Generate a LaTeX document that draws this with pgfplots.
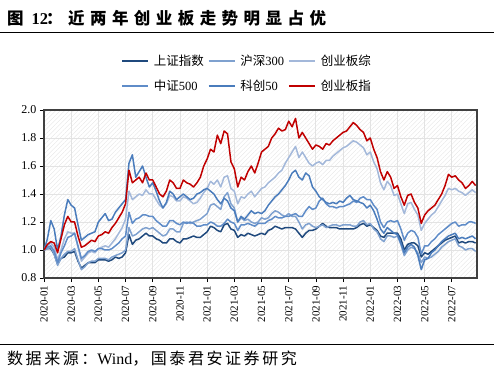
\documentclass[border=0pt]{standalone}
\usepackage{fontspec}
\setmainfont{Liberation Serif}
\newfontfamily\cjk{Noto Sans CJK SC}
\newfontfamily\cjkt[LetterSpace=33]{Noto Sans CJK SC}
\newfontfamily\cjks[LetterSpace=16]{Noto Sans CJK SC}
\usepackage{pgfplots}
\usepackage{pgfplotstable}
\pgfplotsset{compat=1.18}
\usetikzlibrary{patterns.meta}
\definecolor{cSH}{HTML}{1F497D}
\definecolor{cHS}{HTML}{7FA1CF}
\definecolor{cCZ}{HTML}{A3B8DA}
\definecolor{cZZ}{HTML}{5F8CC8}
\definecolor{cKC}{HTML}{4A7CBC}
\definecolor{cCY}{HTML}{C00000}
\pgfplotstableread{
m SH HS CZ ZZ KC CY
0.00 1.00 1.00 1.00 1.00 1.00 1.00
0.25 1.01 1.01 1.03 1.02 1.08 1.04
0.50 1.01 1.02 1.05 1.03 1.21 1.06
0.75 0.97 0.97 1.02 0.99 1.15 1.05
1.00 0.90 0.89 0.93 0.91 1.00 0.98
1.25 0.94 0.94 1.00 0.98 1.10 1.08
1.50 0.95 0.97 1.08 1.03 1.25 1.18
1.75 0.98 0.99 1.13 1.09 1.36 1.24
2.00 0.98 0.99 1.12 1.10 1.32 1.20
2.25 0.99 1.01 1.12 1.12 1.30 1.20
2.50 0.92 0.93 1.02 1.03 1.18 1.10
2.75 0.87 0.86 0.92 0.94 1.07 1.02
3.00 0.89 0.88 0.95 0.96 1.09 1.03
3.25 0.91 0.91 0.98 0.99 1.11 1.05
3.50 0.91 0.92 0.99 1.00 1.12 1.07
3.75 0.91 0.92 0.98 0.99 1.13 1.06
4.00 0.93 0.94 1.01 1.01 1.20 1.10
4.25 0.93 0.94 1.02 1.01 1.23 1.11
4.50 0.93 0.94 1.03 1.00 1.26 1.13
4.75 0.92 0.93 1.02 1.00 1.21 1.12
5.00 0.93 0.95 1.05 1.01 1.22 1.16
5.25 0.95 0.96 1.08 1.03 1.27 1.19
5.50 0.94 0.97 1.12 1.05 1.30 1.23
5.75 0.95 0.98 1.16 1.08 1.33 1.27
6.00 0.98 1.00 1.22 1.10 1.36 1.33
6.25 1.11 1.16 1.42 1.27 1.62 1.57
6.50 1.04 1.10 1.36 1.19 1.68 1.48
6.75 1.07 1.11 1.38 1.22 1.52 1.50
7.00 1.08 1.13 1.40 1.23 1.56 1.52
7.25 1.10 1.15 1.39 1.25 1.60 1.48
7.50 1.12 1.16 1.43 1.25 1.52 1.55
7.75 1.10 1.15 1.40 1.24 1.45 1.50
8.00 1.10 1.16 1.40 1.24 1.48 1.50
8.25 1.08 1.14 1.36 1.21 1.42 1.45
8.50 1.07 1.12 1.32 1.19 1.35 1.40
8.75 1.05 1.10 1.30 1.17 1.30 1.38
9.00 1.05 1.11 1.33 1.17 1.34 1.42
9.25 1.08 1.15 1.39 1.21 1.42 1.50
9.50 1.08 1.15 1.38 1.21 1.40 1.48
9.75 1.06 1.13 1.35 1.19 1.36 1.44
10.00 1.05 1.13 1.35 1.18 1.38 1.44
10.25 1.08 1.19 1.38 1.20 1.40 1.50
10.50 1.08 1.20 1.37 1.19 1.38 1.48
10.75 1.09 1.19 1.35 1.20 1.36 1.47
11.00 1.10 1.20 1.33 1.19 1.37 1.45
11.25 1.09 1.21 1.34 1.17 1.40 1.48
11.50 1.09 1.22 1.37 1.17 1.41 1.52
11.75 1.11 1.24 1.41 1.18 1.43 1.60
12.00 1.13 1.26 1.44 1.18 1.44 1.65
12.25 1.17 1.32 1.49 1.20 1.42 1.72
12.50 1.16 1.33 1.47 1.19 1.40 1.70
12.75 1.14 1.31 1.50 1.17 1.36 1.82
13.00 1.13 1.29 1.45 1.17 1.33 1.76
13.25 1.18 1.38 1.52 1.19 1.37 1.85
13.50 1.19 1.41 1.53 1.22 1.35 1.83
13.75 1.15 1.33 1.44 1.20 1.30 1.63
14.00 1.14 1.30 1.42 1.19 1.28 1.58
14.25 1.09 1.20 1.33 1.14 1.20 1.45
14.50 1.11 1.23 1.38 1.18 1.24 1.52
14.75 1.10 1.21 1.37 1.18 1.22 1.50
15.00 1.12 1.22 1.40 1.19 1.25 1.56
15.25 1.11 1.20 1.42 1.18 1.28 1.60
15.50 1.10 1.19 1.38 1.17 1.26 1.55
15.75 1.11 1.20 1.41 1.19 1.27 1.62
16.00 1.12 1.23 1.44 1.19 1.26 1.70
16.25 1.11 1.22 1.45 1.19 1.28 1.72
16.50 1.14 1.23 1.48 1.21 1.32 1.74
16.75 1.15 1.26 1.50 1.22 1.35 1.80
17.00 1.17 1.28 1.52 1.24 1.38 1.83
17.25 1.16 1.27 1.55 1.23 1.40 1.87
17.50 1.15 1.25 1.57 1.23 1.43 1.85
17.75 1.16 1.24 1.62 1.24 1.46 1.86
18.00 1.16 1.26 1.66 1.24 1.50 1.92
18.25 1.16 1.24 1.70 1.25 1.55 1.88
18.50 1.15 1.24 1.74 1.26 1.57 1.94
18.75 1.12 1.20 1.66 1.24 1.52 1.80
19.00 1.09 1.15 1.70 1.24 1.50 1.84
19.25 1.12 1.18 1.66 1.28 1.55 1.80
19.50 1.14 1.19 1.62 1.31 1.53 1.76
19.75 1.14 1.17 1.60 1.29 1.45 1.72
20.00 1.15 1.16 1.62 1.30 1.42 1.75
20.25 1.17 1.17 1.63 1.35 1.38 1.74
20.50 1.19 1.18 1.61 1.37 1.36 1.72
20.75 1.17 1.16 1.64 1.33 1.34 1.76
21.00 1.16 1.17 1.64 1.31 1.33 1.75
21.25 1.16 1.18 1.67 1.31 1.34 1.78
21.50 1.16 1.18 1.69 1.30 1.33 1.80
21.75 1.15 1.17 1.71 1.31 1.35 1.82
22.00 1.15 1.18 1.73 1.31 1.34 1.84
22.25 1.15 1.18 1.74 1.32 1.37 1.85
22.50 1.15 1.18 1.76 1.33 1.39 1.88
22.75 1.15 1.17 1.78 1.35 1.36 1.91
23.00 1.16 1.17 1.77 1.34 1.35 1.89
23.25 1.18 1.20 1.75 1.37 1.34 1.86
23.50 1.19 1.21 1.73 1.38 1.33 1.84
23.75 1.17 1.18 1.68 1.36 1.30 1.78
24.00 1.18 1.19 1.70 1.36 1.32 1.80
24.25 1.16 1.15 1.63 1.32 1.28 1.72
24.50 1.14 1.13 1.58 1.29 1.22 1.66
24.75 1.10 1.08 1.48 1.20 1.15 1.56
25.00 1.09 1.06 1.43 1.16 1.12 1.50
25.25 1.12 1.10 1.49 1.20 1.16 1.56
25.50 1.12 1.10 1.46 1.21 1.14 1.52
25.75 1.12 1.09 1.39 1.20 1.12 1.44
26.00 1.12 1.10 1.40 1.21 1.11 1.46
26.25 1.08 1.04 1.33 1.15 1.05 1.38
26.50 1.00 0.96 1.26 1.07 0.98 1.32
26.75 1.04 1.00 1.33 1.12 1.02 1.39
27.00 1.05 1.02 1.34 1.14 1.04 1.40
27.25 1.05 1.01 1.29 1.13 1.02 1.34
27.50 1.03 0.98 1.25 1.09 0.96 1.30
27.75 0.95 0.91 1.14 0.97 0.86 1.19
28.00 0.98 0.95 1.19 1.03 0.93 1.25
28.25 0.97 0.94 1.22 1.03 0.94 1.28
28.50 0.99 0.95 1.25 1.06 0.98 1.30
28.75 1.01 0.97 1.27 1.08 1.00 1.32
29.00 1.03 0.99 1.31 1.11 1.03 1.36
29.25 1.05 1.02 1.35 1.13 1.06 1.40
29.50 1.07 1.04 1.39 1.15 1.08 1.46
29.75 1.08 1.06 1.44 1.17 1.10 1.54
30.00 1.09 1.07 1.43 1.19 1.11 1.52
30.25 1.10 1.08 1.44 1.20 1.12 1.53
30.50 1.05 1.03 1.42 1.17 1.08 1.50
30.75 1.06 1.02 1.41 1.18 1.09 1.48
31.00 1.05 1.00 1.39 1.18 1.08 1.44
31.25 1.06 1.01 1.41 1.20 1.09 1.46
31.50 1.06 1.01 1.43 1.20 1.10 1.49
31.75 1.05 0.99 1.41 1.19 1.08 1.46
}\datatable
\begin{document}
\begin{tikzpicture}
\path[use as bounding box] (0,0) rectangle (494bp,370bp);
\node[anchor=west, inner sep=0pt, font=\fontsize{16.5bp}{18bp}\selectfont\bfseries] at (7bp,352bp)
  {{\cjkt 图}\hspace{8bp}12\hspace{-2bp}{\cjkt ：近两年创业板走势明显占优}};
\draw[line width=1bp] (0,337bp) -- (494bp,337bp);
\draw[line width=1bp] (0,25bp) -- (494bp,25bp);
\node[anchor=west, inner sep=0pt, font=\fontsize{16bp}{18bp}\selectfont] at (7bp,11bp)
  {{\cjks 数据来源：}Wind{\cjks ，国泰君安证券研究}};
\begin{axis}[
  at={(44bp,92bp)}, anchor=south west,
  width=433bp, height=168bp, scale only axis,
  xmin=0, xmax=31.85, ymin=0.8, ymax=2.0,
  xtick={0,2,...,30},
  xticklabels={2020-01,2020-03,2020-05,2020-07,2020-09,2020-11,2021-01,2021-03,2021-05,2021-07,2021-09,2021-11,2022-01,2022-03,2022-05,2022-07},
  xticklabel style={rotate=90, anchor=east, font=\fontsize{11bp}{12bp}\selectfont},
  ytick={0.8,1.0,...,2.0},
  yticklabel style={font=\fontsize{12bp}{13bp}\selectfont},
  /pgf/number format/.cd, fixed, fixed zerofill, precision=1, assume math mode=true,
  /pgfplots/.cd,
  tick pos=left, tick align=outside, major tick length=4bp,
  tick style={black, line width=0.8bp},
  grid=major, major grid style={gray!22, line width=0.9bp},
  axis line style={black!75, line width=1.3bp},
  axis background/.style={pattern={Lines[angle=45,distance=3.2bp,line width=0.35bp]}, pattern color=gray!22},
  legend columns=3,
  legend cell align=left,
  legend style={at={(0.178,1.34)}, anchor=north west, draw=none, fill=none,
    font=\fontsize{12.5bp}{14bp}\selectfont, inner sep=0pt, row sep=9bp,
    /tikz/every even column/.append style={column sep=2bp},
    /tikz/every odd column/.append style={column sep=3bp}},
  legend image code/.code={\draw[#1, line width=1.6bp] (0bp,0bp) -- (26bp,0bp);},
  every axis plot/.append style={line width=1.5bp, line join=round},
]
\addplot[cSH, no marks] table[x=m, y=SH] {\datatable};
\addlegendentry{\cjk 上证指数}
\addplot[cHS, no marks] table[x=m, y=HS] {\datatable};
\addlegendentry{{\cjk 沪深}300}
\addplot[cCZ, no marks] table[x=m, y=CZ] {\datatable};
\addlegendentry{\cjk 创业板综}
\addplot[cZZ, no marks] table[x=m, y=ZZ] {\datatable};
\addlegendentry{{\cjk 中证}500}
\addplot[cKC, no marks] table[x=m, y=KC] {\datatable};
\addlegendentry{{\cjk 科创}50}
\addplot[cCY, no marks] table[x=m, y=CY] {\datatable};
\addlegendentry{\cjk 创业板指}
\end{axis}
\end{tikzpicture}
\end{document}
